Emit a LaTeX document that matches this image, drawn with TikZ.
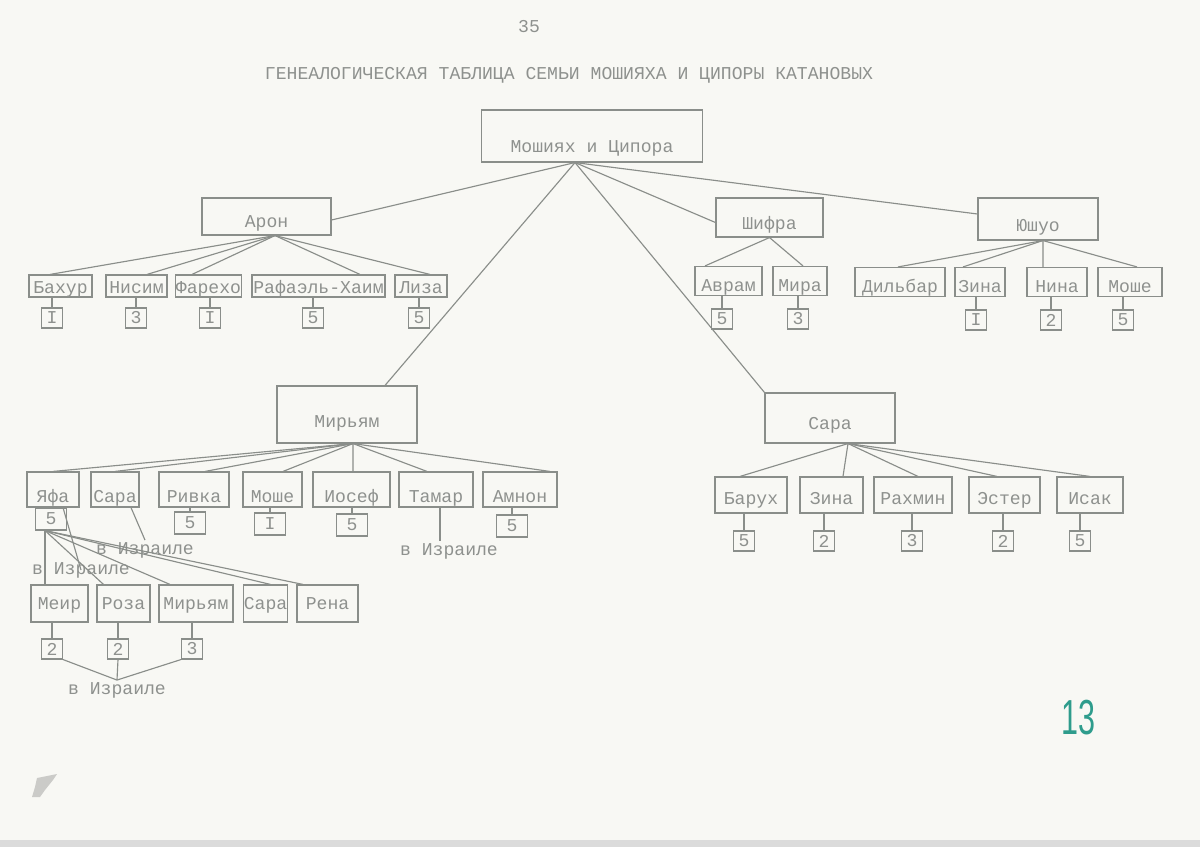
\documentclass[tikz,border=0pt]{standalone}
\usepackage{fontspec}
\setmainfont{Liberation Mono}
\newfontfamily\handfont{Liberation Sans}
\definecolor{paper}{HTML}{F8F8F4}
\definecolor{pencil}{HTML}{8A8E8A}
\definecolor{ink}{HTML}{8E918E}
\definecolor{tealpen}{HTML}{2E9C8C}
\begin{document}
\begin{tikzpicture}[x=0.02cm,y=-0.02cm,
  font=\fontsize{10.3}{12}\selectfont,
  tie/.style={draw=pencil,line width=0.65pt},
  big/.style={draw=pencil,line width=0.65pt,text=ink,inner sep=0pt},
  kid/.style={draw=pencil,line width=0.65pt,text=ink,inner sep=0pt},
  rowa/.style={kid,text height=0.38cm,text depth=0.06cm},
  rowb/.style={kid,text height=0.5cm,text depth=0.08cm},
  rowc/.style={kid,text height=0.62cm,text depth=0.08cm},
  rowd/.style={kid,text height=0.56cm,text depth=0.16cm},
  rowe/.style={kid,text height=0.5cm,text depth=0.24cm},
  num/.style={draw=pencil,line width=0.65pt,text=ink,inner sep=0pt,minimum width=0.42cm,minimum height=0.4cm},
  numw/.style={num,minimum width=0.62cm,minimum height=0.44cm},
  isr/.style={text=ink,inner sep=1pt}]
\fill[paper] (0,0) rectangle (1200,847);
\useasboundingbox (0,0) rectangle (1200,847);
\fill[black!14] (0,840) rectangle (1200,847);
\fill[black!18!paper] (37,778) -- (57,774) -- (53,780) -- (45,790) -- (40,797) -- (32,797) -- (35,787) -- cycle;

\node[text=ink] (page) at (529,27) {35};
\node[text=ink] (title) at (569,75) {ГЕНЕАЛОГИЧЕСКАЯ ТАБЛИЦА СЕМЬИ МОШИЯХА И ЦИПОРЫ КАТАНОВЫХ};

% parents
\node[big,minimum width=4.42cm,text height=0.86cm,text depth=0.18cm] (root) at (592,136) {Мошиях и Ципора};
\node[big,minimum width=2.58cm,text height=0.6cm,text depth=0.14cm] (aron) at (266.5,216.5) {Арон};
\node[big,minimum width=2.14cm,text height=0.64cm,text depth=0.14cm] (shifra) at (769.5,217.5) {Шифра};
\node[big,minimum width=2.4cm,text height=0.68cm,text depth=0.16cm] (yushuo) at (1038,219) {Юшуо};
\node[big,minimum width=2.8cm,text height=0.84cm,text depth=0.3cm] (miriam) at (347,414.5) {Мирьям};
\node[big,minimum width=2.6cm,text height=0.74cm,text depth=0.26cm] (sara) at (830,418) {Сара};

\coordinate (rhub) at ([xshift=-0.34cm]root.south);
\draw[tie] (rhub) -- ([yshift=-0.07cm]aron.east);
\draw[tie] (rhub) -- ([xshift=0.76cm]miriam.north);
\draw[tie] (rhub) -- ([yshift=-0.1cm]shifra.west);
\draw[tie] (rhub) -- ([yshift=0.1cm]yushuo.west);
\draw[tie] (rhub) -- (sara.north west);

% children
\node[rowa,minimum width=1.26cm] (bakhur) at (60.5,286) {Бахур};
\node[rowa,minimum width=1.22cm] (nisim) at (136.5,286) {Нисим};
\node[rowa,minimum width=1.26cm] (farekho) at (208.5,286) {Фарехо};
\node[rowa,minimum width=2.66cm] (rafael) at (318.5,286) {Рафаэль-Хаим};
\node[rowa,minimum width=1.04cm] (liza) at (421,286) {Лиза};

\node[rowb,minimum width=1.34cm] (avram) at (728.5,281) {Аврам};
\node[rowb,minimum width=1.08cm] (mira) at (800,281) {Мира};

\node[rowb,minimum width=1.8cm] (dilbar) at (900,282) {Дильбар};
\node[rowb,minimum width=1.0cm] (zina) at (980,282) {Зина};
\node[rowb,minimum width=1.2cm] (nina) at (1057,282) {Нина};
\node[rowb,minimum width=1.28cm] (moshe) at (1130,282) {Моше};

\node[rowc,minimum width=1.04cm] (yafa) at (53,489.5) {Яфа};
\node[rowc,minimum width=0.96cm] (saram) at (115,489.5) {Сара};
\node[rowc,minimum width=1.4cm] (rivka) at (194,489.5) {Ривка};
\node[rowc,minimum width=1.18cm] (moshem) at (272.5,489.5) {Моше};
\node[rowc,minimum width=1.54cm] (iosef) at (351.5,489.5) {Иосеф};
\node[rowc,minimum width=1.48cm] (tamar) at (436,489.5) {Тамар};
\node[rowc,minimum width=1.48cm] (amnon) at (520,489.5) {Амнон};

\node[rowd,minimum width=1.44cm] (barukh) at (751,495) {Барух};
\node[rowd,minimum width=1.26cm] (zinas) at (831.5,495) {Зина};
\node[rowd,minimum width=1.56cm] (rakhmin) at (913,495) {Рахмин};
\node[rowd,minimum width=1.42cm] (ester) at (1004.5,495) {Эстер};
\node[rowd,minimum width=1.32cm] (isak) at (1090,495) {Исак};

\node[rowe,minimum width=1.14cm] (meir) at (59.5,603.5) {Меир};
\node[rowe,minimum width=1.06cm] (roza) at (123.5,603.5) {Роза};
\node[rowe,minimum width=1.48cm] (miriamg) at (196,603.5) {Мирьям};
\node[rowe,minimum width=0.88cm] (sarag) at (265.5,603.5) {Сара};
\node[rowe,minimum width=1.22cm] (rena) at (327.5,603.5) {Рена};

\foreach \k/\s in {bakhur/-0.21cm,nisim/0.21cm,farekho/-0.33cm,rafael/0.83cm,liza/0.18cm}
  \draw[tie] ([xshift=0.17cm]aron.south) -- ([xshift=\s]\k.north);
\foreach \k/\s in {avram/-0.47cm,mira/0.06cm}
  \draw[tie] (shifra.south) -- ([xshift=\s]\k.north);
\foreach \k/\s in {dilbar/-0.04cm,zina/-0.34cm,nina/-0.28cm,moshe/0.14cm}
  \draw[tie] ([xshift=0.1cm]yushuo.south) -- ([xshift=\s]\k.north);
\foreach \k/\s in {yafa/0cm,saram/0cm,rivka/0.22cm,moshem/0.21cm,iosef/0.03cm,tamar/-0.18cm,amnon/0.6cm}
  \draw[tie] ([xshift=0.12cm]miriam.south) -- ([xshift=\s]\k.north);
\foreach \k/\s in {barukh/-0.22cm,zinas/0.23cm,rakhmin/0.1cm,ester/-0.15cm,isak/0cm}
  \draw[tie] ([xshift=0.36cm]sara.south) -- ([xshift=\s]\k.north);

% numbers
\foreach \k/\x/\y/\v in {bakhur/52/318/I,nisim/136/318/3,farekho/210/318/I,rafael/313/318/5,liza/419/318/5,
    avram/722/319/5,mira/798/319/3,zina/976/320/I,nina/1051/320/2,moshe/1123/320/5,
    barukh/744/541/5,zinas/824/541/2,rakhmin/912/541/3,ester/1003/541/2,isak/1080/541/5,
    meir/52/649/2,roza/118/649/2,miriamg/192/649/3} {
  \node[num] (n\k) at (\x,\y) {\v};
  \draw[tie] (n\k.north |- \k.south) -- (n\k.north);
}
\foreach \k/\x/\y/\v in {yafa/51/519/5,rivka/190/523/5,moshem/270/524/I,iosef/352/525/5,amnon/512/526/5} {
  \node[numw] (n\k) at (\x,\y) {\v};
  \draw[tie] (n\k.north |- \k.south) -- (n\k.north);
}

% в Израиле
\node[isr] (isra) at (145,550) {в Израиле};
\node[isr] (isrb) at (81,570) {в Израиле};
\node[isr] (isrc) at (449,551) {в Израиле};
\node[isr] (isrd) at (117,690) {в Израиле};
\draw[tie] ([xshift=0.32cm]saram.south) -- (isra.north);
\draw[tie] ([xshift=0.2cm]yafa.south) -- (isrb.center);
\draw[tie] ([xshift=0.08cm]tamar.south) -- ([xshift=0.08cm]tamar.south |- isrc.north);
\draw[tie] (nmeir.south east) -- (isrd.north);
\draw[tie] (nroza.south) -- (isrd.north);
\draw[tie] (nmiriamg.south west) -- (isrd.north);

% grandchildren of Яфа
\draw[tie] ([xshift=-0.12cm]nyafa.south) -- ([xshift=-0.12cm]nyafa.south |- meir.north);
\draw[tie] ([xshift=-0.12cm]nyafa.south) -- ([xshift=-0.4cm]roza.north);
\draw[tie] ([xshift=-0.12cm]nyafa.south) -- ([xshift=-0.52cm]miriamg.north);
\draw[tie] ([xshift=-0.12cm]nyafa.south) -- ([xshift=0.1cm]sarag.north);
\draw[tie] ([xshift=-0.12cm]nyafa.south) -- ([xshift=-0.49cm]rena.north);

\node[text=tealpen,font=\handfont\fontsize{28}{30}\selectfont] (sheet) at (1078,718) {\scalebox{0.62}[1]{13}};
\end{tikzpicture}
\end{document}
